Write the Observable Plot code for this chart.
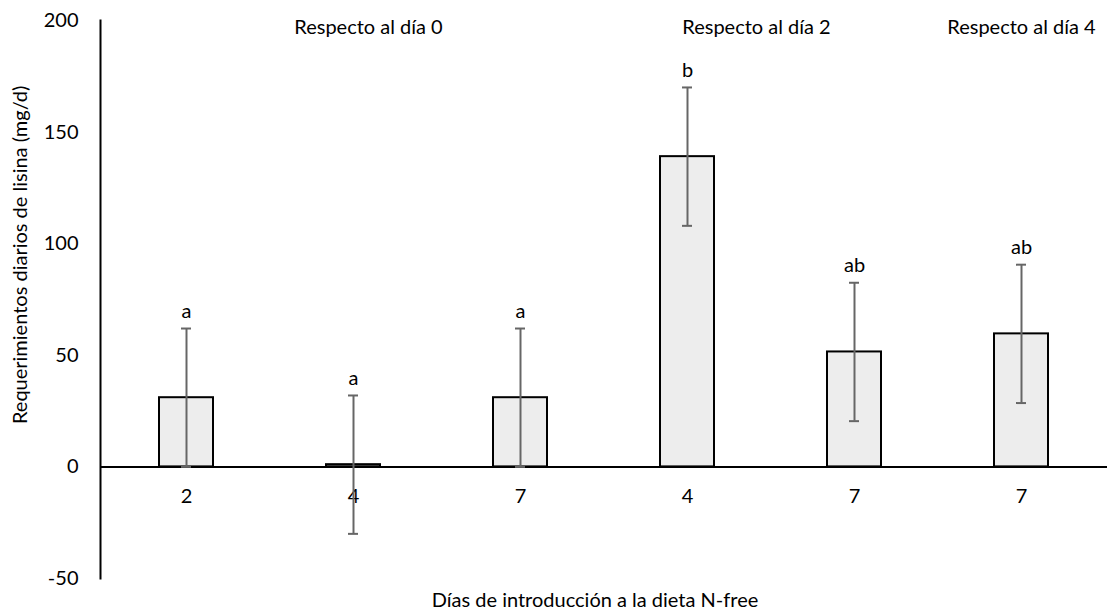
<!DOCTYPE html>
<html><head><meta charset="utf-8">
<script src="https://cdn.jsdelivr.net/npm/d3@7"></script>
<script src="https://cdn.jsdelivr.net/npm/@observablehq/plot@0.6"></script>
<style>body{margin:0;background:#fff} svg{display:block}</style>
</head><body><div id="chart"></div>
<script>
const keys = ["d0-2", "d0-4", "d0-7", "d2-4", "d2-7", "d4-7"];
const tickLabels = ["2", "4", "7", "4", "7", "7"];
const means = [31, 1, 31, 139, 51.5, 59.6];
const errors = [31, 31, 31, 31, 31, 31];
const letters = ["a", "a", "a", "b", "ab", "ab"];
const yTicks = [-50, 0, 50, 100, 150, 200];
const groupLabels = ["Respecto al día 0", "Respecto al día 2", "Respecto al día 4"];
const groupAt = ["d0-4", "d2-4", "d4-7"];
const yLabel = "Requerimientos diarios de lisina (mg/d)";
const xLabel = "Días de introducción a la dieta N-free";

const data = keys.map((k, i) => ({
  key: k, label: tickLabels[i], mean: means[i],
  lo: means[i] - errors[i], hi: means[i] + errors[i], letter: letters[i]
}));
const font = "Lato, 'Open Sans', sans-serif";
const groupOffsets = [15, 69, 0];
const fs = 20;

const chart = Plot.plot({
  width: 1112, height: 613,
  marginLeft: 100, marginRight: 5, marginTop: 20, marginBottom: 35,
  style: {fontFamily: font, background: "#fff", color: "#000"},
  x: {domain: keys, paddingInner: 0.678, paddingOuter: 0.339, axis: null},
  y: {domain: [-50, 200], ticks: yTicks, axis: null},
  marks: [
    Plot.axisY({ticks: yTicks, tickSize: 0, tickPadding: 22, fontSize: fs, label: null, tickFormat: d => String(d)}),
    Plot.barY(data, {x: "key", y: "mean", fill: "#ededed", stroke: "#000", strokeWidth: 2}),
    Plot.ruleY([0], {stroke: "#000", strokeWidth: 2}),
    Plot.frame({anchor: "left", stroke: "#000", strokeWidth: 2}),
    Plot.text(data, {x: "key", y: 0, text: "label", dy: 30, fontSize: fs, fill: "#000"}),
    Plot.ruleX(data, {x: "key", y1: "lo", y2: "hi", stroke: "#666", strokeWidth: 2}),
    Plot.tickY(data, {x: "key", y: "lo", stroke: "#666", strokeWidth: 2, insetLeft: 22, insetRight: 22}),
    Plot.tickY(data, {x: "key", y: "hi", stroke: "#666", strokeWidth: 2, insetLeft: 22, insetRight: 22}),
    Plot.text(data, {x: "key", y: "hi", text: "letter", dy: -17, fontSize: fs, fill: "#000"}),
    ...groupLabels.map((g, i) => Plot.text([g], {x: [groupAt[i]], frameAnchor: "top", dy: -1, dx: groupOffsets[i], text: d => d, fontSize: fs, fill: "#000"})),
    Plot.text([yLabel], {frameAnchor: "left", y: [95], rotate: -90, textAnchor: "middle", dx: -80, text: d => d, fontSize: fs, fill: "#000"}),
    Plot.text([xLabel], {frameAnchor: "bottom", dy: 28, dx: -9, text: d => d, fontSize: fs, fill: "#000"})
  ]
});
document.getElementById("chart").appendChild(chart);
</script></body></html>
